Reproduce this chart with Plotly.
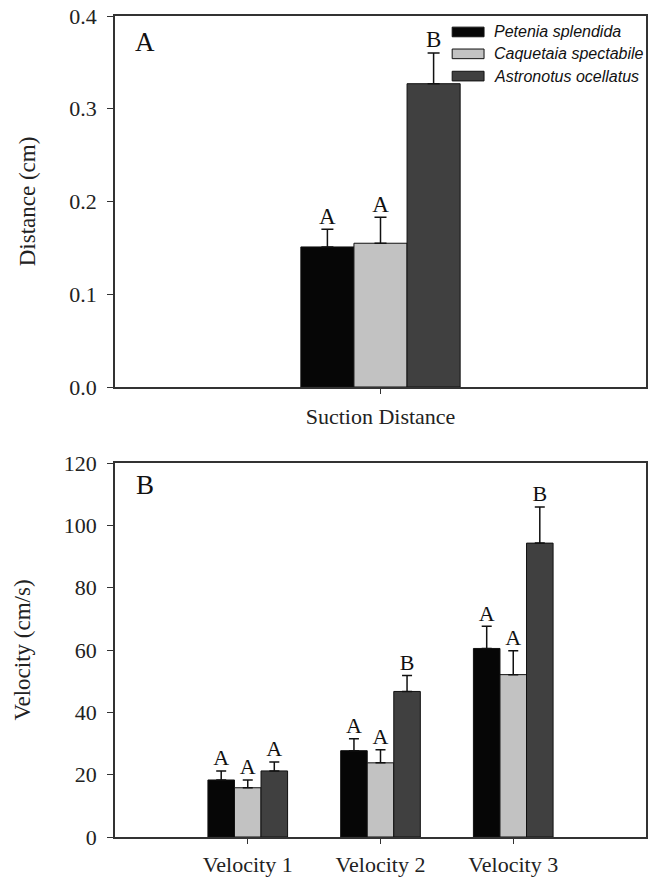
import numpy as np
import plotly.graph_objects as go

# ---------------- data ----------------
species = ["Petenia splendida", "Caquetaia spectabile", "Astronotus ocellatus"]

# Panel A: suction distance (cm)
dist_categories = ["Suction Distance"]
dist_petenia = [0.151]
dist_caquetaia = [0.155]
dist_astronotus = [0.327]
dist_petenia_err = [0.019]
dist_caquetaia_err = [0.028]
dist_astronotus_err = [0.033]
dist_petenia_lbl = ["A"]
dist_caquetaia_lbl = ["A"]
dist_astronotus_lbl = ["B"]

# Panel B: velocity (cm/s)
vel_categories = ["Velocity 1", "Velocity 2", "Velocity 3"]
vel_petenia = [18.3, 27.7, 60.5]
vel_caquetaia = [15.8, 23.8, 52.1]
vel_astronotus = [21.2, 46.7, 94.3]
vel_petenia_err = [2.9, 3.8, 7.1]
vel_caquetaia_err = [2.5, 4.2, 7.7]
vel_astronotus_err = [2.9, 5.1, 11.6]
vel_petenia_lbl = ["A", "A", "A"]
vel_caquetaia_lbl = ["A", "A", "A"]
vel_astronotus_lbl = ["A", "B", "B"]

# ---------------- style ----------------
colors = ["#060606", "#c2c2c2", "#404040"]
SERIF = "Liberation Serif"
SANS = "Liberation Sans"
AXC = "#333333"
BAR_W = 0.2

fig = go.Figure()

panels = [
    dict(cats=dist_categories,
         means=[dist_petenia, dist_caquetaia, dist_astronotus],
         errs=[dist_petenia_err, dist_caquetaia_err, dist_astronotus_err],
         lbls=[dist_petenia_lbl, dist_caquetaia_lbl, dist_astronotus_lbl],
         xa="x", ya="y", capw=6, lblsize=23),
    dict(cats=vel_categories,
         means=[vel_petenia, vel_caquetaia, vel_astronotus],
         errs=[vel_petenia_err, vel_caquetaia_err, vel_astronotus_err],
         lbls=[vel_petenia_lbl, vel_caquetaia_lbl, vel_astronotus_lbl],
         xa="x2", ya="y2", capw=5, lblsize=22),
]

for p in panels:
    pos = np.arange(len(p["cats"]))
    for k, name in enumerate(species):
        off = -1.5 * BAR_W + k * BAR_W
        fig.add_trace(go.Bar(
            x=pos, y=p["means"][k], name=name,
            width=BAR_W, offset=off,
            marker=dict(color=colors[k], line=dict(color="#111111", width=1)),
            error_y=dict(type="data", symmetric=False, array=p["errs"][k],
                         arrayminus=[0] * len(pos), color="#111111",
                         thickness=1.5, width=p["capw"]),
            xaxis=p["xa"], yaxis=p["ya"], showlegend=False,
        ))
        tops = np.array(p["means"][k]) + np.array(p["errs"][k])
        fig.add_trace(go.Scatter(
            x=pos + off + BAR_W / 2, y=tops, mode="text",
            text=p["lbls"][k], textposition="top center",
            textfont=dict(family=SERIF, size=p["lblsize"], color="#111111"),
            xaxis=p["xa"], yaxis=p["ya"], showlegend=False, hoverinfo="skip",
        ))

axis_common = dict(showline=True, linecolor=AXC, linewidth=1.5, mirror=True,
                   showgrid=False, zeroline=False, ticks="outside",
                   tickcolor=AXC, tickwidth=1.2, automargin=False,
                   tickfont=dict(family=SERIF, size=22, color="#222222"))

fig.update_layout(
    width=654, height=880,
    margin=dict(l=115, r=8, t=16, b=43),
    plot_bgcolor="white", paper_bgcolor="white",
    barmode="overlay",
    showlegend=False,
    xaxis=dict(axis_common, domain=[0, 1], anchor="y", range=[-1, 1],
               tickvals=list(range(len(dist_categories))), ticktext=dist_categories,
               ticklen=5, ticklabelstandoff=4),
    yaxis=dict(axis_common, domain=[0.5481, 1.0], anchor="x", range=[0, 0.4],
               dtick=0.1, tickformat=".1f", ticklen=6, ticklabelstandoff=6,
               title=dict(text="Distance (cm)", standoff=27,
                          font=dict(family=SERIF, size=23, color="#222222"))),
    xaxis2=dict(axis_common, domain=[0, 1], anchor="y2", range=[-1, 3],
                tickvals=list(range(len(vel_categories))), ticktext=vel_categories,
                ticklen=5, ticklabelstandoff=2),
    yaxis2=dict(axis_common, domain=[0, 0.4555], anchor="x2", range=[0, 120],
                dtick=20, ticklen=6, ticklabelstandoff=6,
                title=dict(text="Velocity (cm/s)", standoff=27,
                           font=dict(family=SERIF, size=23, color="#222222"))),
)

# panel letters
for txt, xr, yr, yy in [("A", "x domain", "y domain", 0.930),
                        ("B", "x2 domain", "y2 domain", 0.940)]:
    fig.add_annotation(text=txt, xref=xr, yref=yr, x=0.056, y=yy,
                       xanchor="center", yanchor="middle", showarrow=False,
                       font=dict(family=SERIF, size=27, color="#111111"))

# legend drawn inside panel A
leg_y = [0.957, 0.898, 0.838]
for k, name in enumerate(species):
    fig.add_shape(type="rect", xref="x domain", yref="y domain",
                  x0=0.635, x1=0.695, y0=leg_y[k] - 0.013, y1=leg_y[k] + 0.013,
                  fillcolor=colors[k], line=dict(color="#111111", width=1))
    fig.add_annotation(text=f"<i>{name}</i>", xref="x domain", yref="y domain",
                       x=0.710, y=leg_y[k], xanchor="left", yanchor="middle",
                       showarrow=False,
                       font=dict(family=SANS, size=16, color="#111111"))

fig.write_html("out.html")
